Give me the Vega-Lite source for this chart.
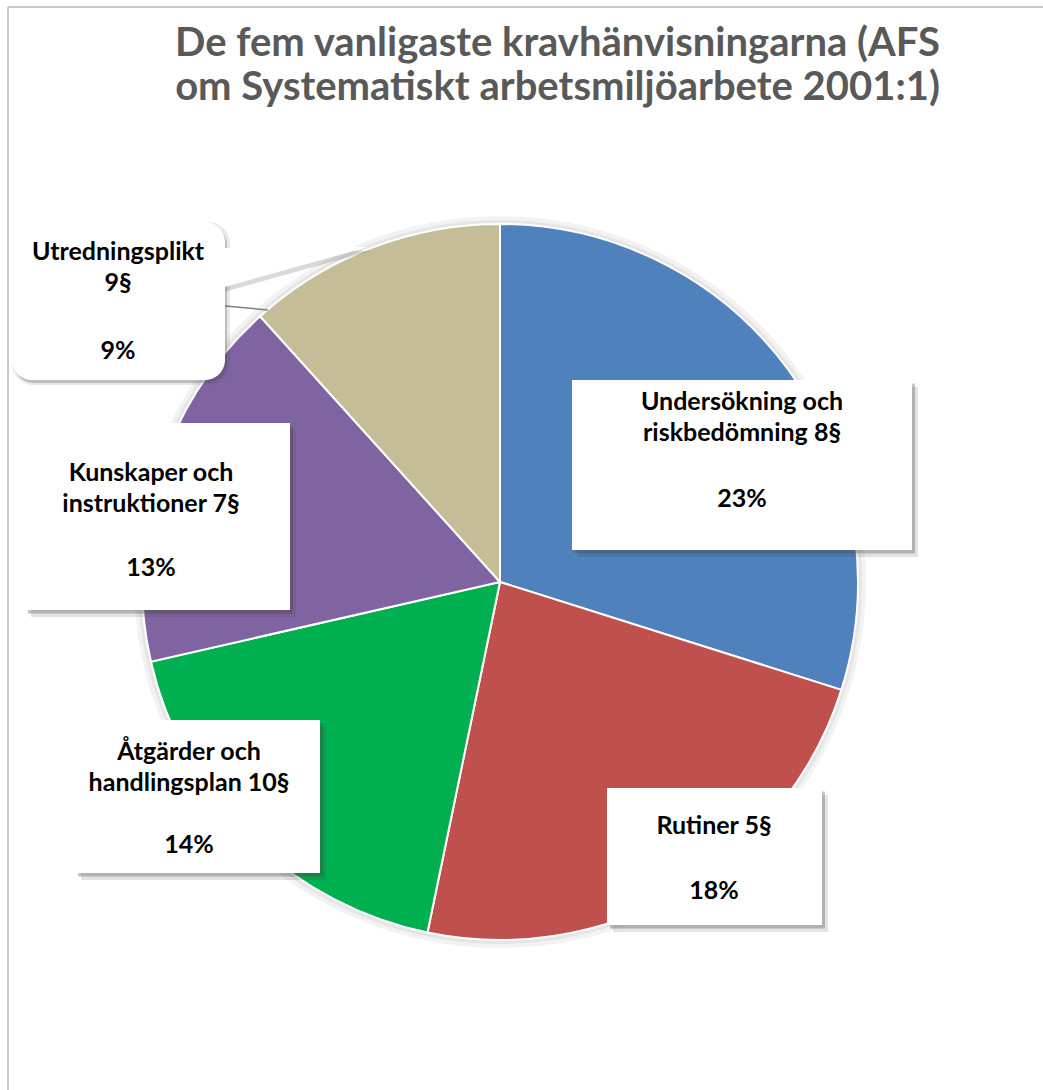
{
  "$schema": "https://vega.github.io/schema/vega-lite/v6.json",
  "width": 1035,
  "height": 1083,
  "autosize": {"type": "none"},
  "padding": {"left": 8, "top": 7, "right": 0, "bottom": 0},
  "background": "white",
  "config": {
    "view": {"stroke": null},
    "axis": {"disable": true},
    "text": {"font": "Lato", "fontSize": 25, "fontWeight": "bold", "lineHeight": 31, "lineBreak": "\n", "align": "center", "baseline": "middle", "color": "#000000"}
  },
  "title": {
    "text": ["De fem vanligaste kravhänvisningarna (AFS", "om Systematiskt arbetsmiljöarbete 2001:1)"],
    "font": "Lato",
    "fontSize": 40,
    "fontWeight": "bold",
    "color": "#595959",
    "anchor": "middle",
    "offset": -102,
    "dx": 32,
    "lineHeight": 44
  },
  "data": {
    "values": [
      {"category": "Undersökning och\nriskbedömning 8§", "value": 23},
      {"category": "Rutiner 5§", "value": 18},
      {"category": "Åtgärder och\nhandlingsplan 10§", "value": 14},
      {"category": "Kunskaper och\ninstruktioner 7§", "value": 13},
      {"category": "Utredningsplikt\n9§", "value": 9}
    ]
  },
  "transform": [
    {"calculate": "datum.value + '%'", "as": "pct"}
  ],
  "encoding": {
    "x": {"datum": 0, "type": "quantitative", "scale": {"domain": [-137.43, 151.68], "nice": false, "zero": false}, "axis": null},
    "y": {"datum": 0, "type": "quantitative", "scale": {"domain": [-141.9, 160.61], "nice": false, "zero": false}, "axis": null}
  },
  "layer": [
    {
      "mark": {"type": "rule", "color": "#c8c8c8", "strokeWidth": 2},
      "transform": [{"filter": {"field": "value", "equal": 23}}],
      "encoding": {
        "x": {"datum": -137.43, "type": "quantitative"},
        "x2": {"datum": 151.68},
        "y": {"datum": 160.61, "type": "quantitative"}
      }
    },
    {
      "mark": {"type": "rule", "color": "#c8c8c8", "strokeWidth": 2},
      "transform": [{"filter": {"field": "value", "equal": 23}}],
      "encoding": {
        "x": {"datum": -137.43, "type": "quantitative"},
        "y": {"datum": 160.61, "type": "quantitative"},
        "y2": {"datum": -141.9}
      }
    },
    {
      "mark": {"type": "arc", "outerRadius": 366, "fill": "#000000", "opacity": 0.05, "strokeWidth": 0},
      "encoding": {
        "theta": {"field": "value", "type": "quantitative", "stack": true},
        "order": {"field": "value", "sort": "descending"}
      }
    },
    {
      "mark": {"type": "arc", "outerRadius": 362, "fill": "#000000", "opacity": 0.05, "strokeWidth": 0},
      "encoding": {
        "theta": {"field": "value", "type": "quantitative", "stack": true},
        "order": {"field": "value", "sort": "descending"}
      }
    },
    {
      "mark": {"type": "arc", "outerRadius": 358, "stroke": "#ffffff", "strokeWidth": 2},
      "encoding": {
        "theta": {"field": "value", "type": "quantitative", "stack": true},
        "order": {"field": "value", "sort": "descending"},
        "color": {
          "field": "category",
          "type": "nominal",
          "scale": {
            "domain": ["Undersökning och\nriskbedömning 8§", "Rutiner 5§", "Åtgärder och\nhandlingsplan 10§", "Kunskaper och\ninstruktioner 7§", "Utredningsplikt\n9§"],
            "range": ["#4F81BD", "#C0504D", "#00B050", "#8064A2", "#C4BD97"]
          },
          "legend": null
        }
      }
    },
    {
      "transform": [{"filter": {"field": "value", "equal": 9}}],
      "mark": {"type": "rule", "color": "#7f7f7f", "strokeWidth": 1.5},
      "encoding": {
        "x": {"datum": -76.82, "type": "quantitative"},
        "x2": {"datum": -64.8},
        "y": {"datum": 77.09, "type": "quantitative"},
        "y2": {"datum": 75.98}
      }
    },
    {
      "transform": [{"filter": {"field": "value", "equal": 23}}],
      "layer": [
        {
          "mark": {"type": "rect", "fill": "#404040", "opacity": 0.15},
          "encoding": {
            "x": {"datum": 21.79, "type": "quantitative"}, "x2": {"datum": 116.76},
            "y": {"datum": 54.46, "type": "quantitative"}, "y2": {"datum": 6.98}
          }
        },
        {
          "mark": {"type": "rect", "fill": "#404040", "opacity": 0.3},
          "encoding": {
            "x": {"datum": 20.95, "type": "quantitative"}, "x2": {"datum": 115.92},
            "y": {"datum": 55.44, "type": "quantitative"}, "y2": {"datum": 7.96}
          }
        },
        {
          "mark": {"type": "rect", "fill": "#ffffff"},
          "encoding": {
            "x": {"datum": 20.11, "type": "quantitative"}, "x2": {"datum": 115.08},
            "y": {"datum": 56.42, "type": "quantitative"}, "y2": {"datum": 8.94}
          }
        },
        {
          "mark": {"type": "text"},
          "encoding": {
            "x": {"datum": 67.6, "type": "quantitative"},
            "y": {"datum": 50.14, "type": "quantitative"},
            "text": {"field": "category"}
          }
        },
        {
          "mark": {"type": "text"},
          "encoding": {
            "x": {"datum": 67.6, "type": "quantitative"},
            "y": {"datum": 23.32, "type": "quantitative"},
            "text": {"field": "pct"}
          }
        }
      ]
    },
    {
      "transform": [{"filter": {"field": "value", "equal": 18}}],
      "layer": [
        {
          "mark": {"type": "rect", "fill": "#404040", "opacity": 0.15},
          "encoding": {
            "x": {"datum": 31.57, "type": "quantitative"}, "x2": {"datum": 91.62},
            "y": {"datum": -59.5, "type": "quantitative"}, "y2": {"datum": -97.77}
          }
        },
        {
          "mark": {"type": "rect", "fill": "#404040", "opacity": 0.3},
          "encoding": {
            "x": {"datum": 30.73, "type": "quantitative"}, "x2": {"datum": 90.78},
            "y": {"datum": -58.52, "type": "quantitative"}, "y2": {"datum": -96.79}
          }
        },
        {
          "mark": {"type": "rect", "fill": "#ffffff"},
          "encoding": {
            "x": {"datum": 29.89, "type": "quantitative"}, "x2": {"datum": 89.94},
            "y": {"datum": -57.54, "type": "quantitative"}, "y2": {"datum": -95.81}
          }
        },
        {
          "mark": {"type": "text"},
          "encoding": {
            "x": {"datum": 59.78, "type": "quantitative"},
            "y": {"datum": -68.02, "type": "quantitative"},
            "text": {"field": "category"}
          }
        },
        {
          "mark": {"type": "text"},
          "encoding": {
            "x": {"datum": 59.78, "type": "quantitative"},
            "y": {"datum": -86.45, "type": "quantitative"},
            "text": {"field": "pct"}
          }
        }
      ]
    },
    {
      "transform": [{"filter": {"field": "value", "equal": 14}}],
      "layer": [
        {
          "mark": {"type": "rect", "fill": "#404040", "opacity": 0.15},
          "encoding": {
            "x": {"datum": -117.04, "type": "quantitative"}, "x2": {"datum": -48.6},
            "y": {"datum": -40.51, "type": "quantitative"}, "y2": {"datum": -83.24}
          }
        },
        {
          "mark": {"type": "rect", "fill": "#404040", "opacity": 0.3},
          "encoding": {
            "x": {"datum": -117.88, "type": "quantitative"}, "x2": {"datum": -49.44},
            "y": {"datum": -39.53, "type": "quantitative"}, "y2": {"datum": -82.26}
          }
        },
        {
          "mark": {"type": "rect", "fill": "#ffffff"},
          "encoding": {
            "x": {"datum": -118.72, "type": "quantitative"}, "x2": {"datum": -50.28},
            "y": {"datum": -38.55, "type": "quantitative"}, "y2": {"datum": -81.28}
          }
        },
        {
          "mark": {"type": "text"},
          "encoding": {
            "x": {"datum": -86.87, "type": "quantitative"},
            "y": {"datum": -47.49, "type": "quantitative"},
            "text": {"field": "category"}
          }
        },
        {
          "mark": {"type": "text"},
          "encoding": {
            "x": {"datum": -86.87, "type": "quantitative"},
            "y": {"datum": -73.6, "type": "quantitative"},
            "text": {"field": "pct"}
          }
        }
      ]
    },
    {
      "transform": [{"filter": {"field": "value", "equal": 13}}],
      "layer": [
        {
          "mark": {"type": "rect", "fill": "#404040", "opacity": 0.15},
          "encoding": {
            "x": {"datum": -131.0, "type": "quantitative"}, "x2": {"datum": -56.98},
            "y": {"datum": 42.45, "type": "quantitative"}, "y2": {"datum": -9.78}
          }
        },
        {
          "mark": {"type": "rect", "fill": "#404040", "opacity": 0.3},
          "encoding": {
            "x": {"datum": -131.84, "type": "quantitative"}, "x2": {"datum": -57.82},
            "y": {"datum": 43.43, "type": "quantitative"}, "y2": {"datum": -8.8}
          }
        },
        {
          "mark": {"type": "rect", "fill": "#ffffff"},
          "encoding": {
            "x": {"datum": -132.68, "type": "quantitative"}, "x2": {"datum": -58.66},
            "y": {"datum": 44.41, "type": "quantitative"}, "y2": {"datum": -7.82}
          }
        },
        {
          "mark": {"type": "text"},
          "encoding": {
            "x": {"datum": -97.49, "type": "quantitative"},
            "y": {"datum": 30.31, "type": "quantitative"},
            "text": {"field": "category"}
          }
        },
        {
          "mark": {"type": "text"},
          "encoding": {
            "x": {"datum": -97.49, "type": "quantitative"},
            "y": {"datum": 3.77, "type": "quantitative"},
            "text": {"field": "pct"}
          }
        }
      ]
    },
    {
      "transform": [{"filter": {"field": "value", "equal": 9}}],
      "layer": [
        {
          "mark": {"type": "rect", "fill": "#404040", "opacity": 0.12, "cornerRadius": 22},
          "encoding": {
            "x": {"datum": -136.31, "type": "quantitative"}, "x2": {"datum": -75.42},
            "y": {"datum": 100.56, "type": "quantitative"}, "y2": {"datum": 55.02}
          }
        },
        {
          "mark": {"type": "rect", "fill": "#404040", "opacity": 0.25, "cornerRadius": 20},
          "encoding": {
            "x": {"datum": -135.75, "type": "quantitative"}, "x2": {"datum": -76.26},
            "y": {"datum": 99.72, "type": "quantitative"}, "y2": {"datum": 55.58}
          }
        },
        {
          "mark": {"type": "point", "shape": "M-4,0L143,-1L-4,40Z", "size": 4, "filled": true, "color": "#404040", "opacity": 0.2, "strokeWidth": 0},
          "encoding": {
            "x": {"datum": -75.98, "type": "quantitative"},
            "y": {"datum": 92.18, "type": "quantitative"}
          }
        },
        {
          "mark": {"type": "rect", "fill": "#ffffff", "cornerRadius": 20},
          "encoding": {
            "x": {"datum": -136.31, "type": "quantitative"}, "x2": {"datum": -76.82},
            "y": {"datum": 100.56, "type": "quantitative"}, "y2": {"datum": 56.42}
          }
        },
        {
          "mark": {"type": "point", "shape": "M-4,0L143,-1L-4,40Z", "size": 4, "filled": true, "color": "#ffffff", "opacity": 1, "strokeWidth": 0},
          "encoding": {
            "x": {"datum": -76.82, "type": "quantitative"},
            "y": {"datum": 93.3, "type": "quantitative"}
          }
        },
        {
          "mark": {"type": "text"},
          "encoding": {
            "x": {"datum": -106.7, "type": "quantitative"},
            "y": {"datum": 92.04, "type": "quantitative"},
            "text": {"field": "category"}
          }
        },
        {
          "mark": {"type": "text"},
          "encoding": {
            "x": {"datum": -106.7, "type": "quantitative"},
            "y": {"datum": 64.53, "type": "quantitative"},
            "text": {"field": "pct"}
          }
        }
      ]
    }
  ]
}
